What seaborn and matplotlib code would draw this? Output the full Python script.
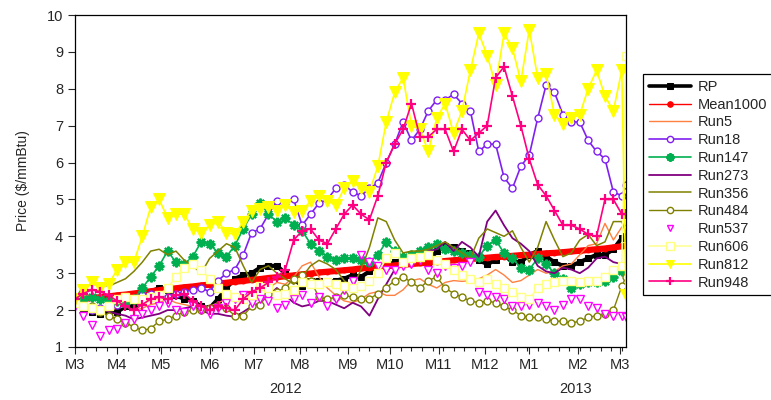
import numpy as np
import pandas as pd
import matplotlib
matplotlib.use("Agg")
import matplotlib.pyplot as plt
import matplotlib.transforms as mtransforms
import seaborn as sns

# Trading days of the sample and the observations kept for plotting
days = pd.bdate_range("2012-03-05", "2013-03-06")
obs = list(range(0, 261, 4)) + [262]

rp = [2.2, 2.05, 1.95, 1.9, 1.95, 1.95, 2.1, 2.1, 2.3, 2.5,
      2.6, 2.55, 2.4, 2.3, 2.25, 2.1, 2.05, 2.3, 2.6, 2.85,
      2.95, 3.0, 3.15, 3.2, 3.2, 3.0, 2.85, 2.65, 2.8, 2.8,
      2.75, 2.8, 2.85, 2.95, 2.9, 3.05, 3.2, 3.2, 3.3, 3.35,
      3.4, 3.3, 3.3, 3.6, 3.75, 3.7, 3.6, 3.55, 3.35, 3.25,
      3.35, 3.5, 3.3, 3.3, 3.5, 3.6, 3.45, 3.3, 3.2, 3.2,
      3.3, 3.4, 3.5, 3.5, 3.65, 3.95, 4.0]
mean1000 = [2.28, 2.30, 2.33, 2.35, 2.37, 2.40, 2.42, 2.45, 2.48, 2.51,
            2.54, 2.57, 2.59, 2.62, 2.64, 2.67, 2.69, 2.72, 2.74, 2.77,
            2.79, 2.82, 2.84, 2.87, 2.89, 2.92, 2.94, 2.97, 2.99, 3.02,
            3.04, 3.06, 3.08, 3.10, 3.13, 3.15, 3.17, 3.19, 3.21, 3.23,
            3.25, 3.27, 3.29, 3.31, 3.33, 3.35, 3.37, 3.39, 3.40, 3.42,
            3.44, 3.45, 3.47, 3.49, 3.50, 3.52, 3.54, 3.55, 3.57, 3.59,
            3.61, 3.63, 3.65, 3.67, 3.70, 3.73, 3.75]
run5 = [2.2, 2.15, 2.1, 2.05, 2.0, 2.05, 2.1, 2.0, 2.05, 2.15,
        2.2, 2.3, 2.2, 2.15, 2.1, 2.05, 2.1, 2.2, 2.3, 2.35,
        2.45, 2.5, 2.55, 2.6, 2.75, 2.7, 2.9, 3.2, 3.3, 2.9,
        2.6, 2.4, 2.25, 2.2, 2.3, 2.45, 2.5, 2.4, 2.4, 2.55,
        2.8, 2.85, 2.7, 2.6, 2.75, 2.8, 2.78, 2.8, 2.85, 2.95,
        3.1, 2.95, 2.75, 2.8, 2.95, 3.1, 3.0, 3.05, 3.2, 3.25,
        3.5, 3.75, 3.8, 4.35, 3.9, 4.25, 4.3]
run18 = [2.2, 2.1, 2.0, 2.05, 2.1, 2.15, 2.2, 2.3, 2.4, 2.45,
         2.4, 2.35, 2.45, 2.5, 2.55, 2.6, 2.5, 2.8, 3.0, 3.1,
         3.5, 4.1, 4.2, 4.6, 4.95, 4.9, 5.0, 4.3, 4.6, 4.9,
         5.0, 5.3, 5.4, 5.2, 5.1, 5.3, 5.45, 6.0, 6.5, 7.1,
         6.6, 6.9, 7.4, 7.7, 7.7, 7.85, 7.6, 7.4, 6.3, 6.5,
         6.5, 5.6, 5.3, 5.9, 6.2, 7.2, 8.1, 7.9, 7.3, 7.1,
         7.1, 6.6, 6.3, 6.1, 5.2, 5.1, 5.4]
run147 = [2.25, 2.3, 2.35, 2.3, 2.25, 2.25, 2.2, 2.3, 2.6, 2.9,
          3.2, 3.6, 3.3, 3.25, 3.45, 3.85, 3.8, 3.55, 3.45, 3.75,
          4.2, 4.6, 4.9, 4.6, 4.4, 4.5, 4.3, 4.15, 3.8, 3.6,
          3.45, 3.35, 3.4, 3.4, 3.35, 3.3, 3.5, 3.85, 3.6, 3.45,
          3.5, 3.6, 3.7, 3.8, 3.65, 3.6, 3.55, 3.5, 3.45, 3.75,
          3.9, 3.55, 3.4, 3.15, 3.1, 3.4, 3.25, 3.0, 2.85, 2.6,
          2.7, 2.75, 2.75, 2.8, 2.9, 3.05, 3.1]
run273 = [2.2, 2.1, 2.0, 2.05, 1.95, 1.9, 1.85, 1.75, 1.8, 1.85,
          1.9, 2.0, 2.0, 2.05, 2.1, 2.0, 1.9, 1.9, 1.85, 1.82,
          1.95, 2.1, 2.2, 2.4, 2.6, 2.4, 2.2, 2.1, 2.15, 2.25,
          2.25, 2.15, 2.05, 2.2, 2.1, 1.85, 2.3, 2.7, 3.1, 3.3,
          3.35, 3.45, 3.6, 3.65, 3.85, 3.6, 3.85, 3.7, 3.45, 4.4,
          4.7, 4.3, 3.95, 3.8, 3.6, 3.2, 3.05, 3.0, 3.15, 3.1,
          3.0, 3.15, 3.4, 3.45, 3.3, 3.25, 3.2]
run356 = [2.3, 2.65, 2.7, 2.7, 2.65, 2.75, 2.85, 3.05, 3.3, 3.6,
          3.65, 3.5, 3.6, 3.35, 3.2, 3.0, 3.4, 3.6, 3.8, 3.7,
          3.2, 2.75, 3.1, 3.2, 3.0, 2.85, 2.7, 2.9, 3.2, 3.35,
          3.25, 3.1, 2.8, 2.6, 3.1, 3.7, 4.5, 4.4, 3.9, 3.55,
          3.6, 3.6, 3.65, 3.75, 3.85, 3.7, 3.55, 3.4, 3.95, 4.2,
          4.1, 4.0, 4.15, 3.7, 3.3, 3.7, 4.4, 3.9, 3.45, 3.55,
          3.9, 4.05, 3.75, 3.85, 4.4, 4.4, 4.1]
run484 = [2.2, 2.15, 2.1, 1.95, 1.85, 1.75, 1.65, 1.55, 1.45, 1.5,
          1.7, 1.75, 1.85, 1.95, 2.0, 2.0, 2.05, 2.1, 2.05, 1.85,
          1.85, 2.1, 2.15, 2.45, 2.5, 2.6, 2.85, 2.95, 2.8, 2.35,
          2.3, 2.35, 2.4, 2.35, 2.3, 2.3, 2.45, 2.6, 2.8, 2.9,
          2.75, 2.6, 2.8, 2.9, 2.6, 2.45, 2.35, 2.25, 2.2, 2.25,
          2.2, 2.1, 2.0, 1.85, 1.8, 1.8, 1.75, 1.7, 1.7, 1.65,
          1.7, 1.8, 1.85, 1.9, 2.0, 2.65, 2.9]
run537 = [2.1, 1.85, 1.6, 1.3, 1.45, 1.5, 1.65, 1.75, 1.9, 2.0,
          2.1, 2.2, 2.0, 1.95, 2.1, 2.0, 1.9, 2.05, 2.2, 2.3,
          2.4, 2.2, 2.3, 2.25, 2.05, 2.15, 2.3, 2.4, 2.2, 2.35,
          2.1, 2.3, 2.55, 2.8, 3.5, 3.3, 3.2, 3.1, 3.1, 3.2,
          3.25, 3.35, 3.1, 3.0, 3.2, 3.15, 3.2, 3.3, 2.5, 2.4,
          2.35, 2.3, 2.1, 2.1, 2.15, 2.2, 2.1, 2.0, 2.15, 2.3,
          2.3, 2.1, 2.05, 1.9, 1.85, 1.85, 1.8]
run606 = [2.2, 2.1, 2.05, 2.0, 2.1, 2.3, 2.35, 2.3, 2.3, 2.35,
          2.4, 2.6, 2.9, 3.15, 3.25, 3.1, 2.85, 2.6, 2.45, 2.35,
          2.3, 2.4, 2.65, 2.6, 2.4, 2.45, 2.55, 2.75, 2.7, 2.7,
          2.75, 2.7, 2.65, 2.6, 2.65, 2.8, 3.0, 3.4, 3.55, 3.3,
          3.4, 3.45, 3.5, 3.35, 3.25, 3.1, 2.95, 2.85, 2.75, 2.85,
          2.7, 2.6, 2.5, 2.35, 2.3, 2.6, 2.7, 2.75, 2.8, 2.8,
          2.75, 2.8, 2.8, 2.9, 3.1, 3.2, 8.9]
run812 = [2.3, 2.55, 2.75, 2.6, 2.7, 3.1, 3.3, 3.3, 4.0, 4.8,
          5.0, 4.5, 4.6, 4.6, 4.2, 4.1, 4.3, 4.4, 4.1, 4.05,
          4.4, 4.7, 4.75, 4.8, 4.7, 4.85, 4.65, 4.7, 4.95, 5.1,
          4.95, 4.85, 5.3, 5.5, 5.3, 5.2, 5.9, 7.1, 7.9, 8.3,
          7.0, 6.9, 6.3, 7.2, 7.6, 6.8, 7.4, 8.5, 9.5, 8.9,
          8.1, 9.5, 9.1, 8.2, 9.6, 8.3, 8.4, 7.3, 7.05, 7.2,
          7.3, 8.0, 8.5, 7.8, 7.4, 8.5, 2.4]
run948 = [2.3, 2.45, 2.55, 2.5, 2.4, 2.25, 2.1, 2.0, 2.15, 2.3,
          2.35, 2.3, 2.4, 2.45, 2.25, 2.1, 2.0, 2.1, 2.05, 2.0,
          2.3, 2.5, 2.6, 2.75, 2.9, 3.1, 3.9, 4.15, 4.2, 3.9,
          3.8, 4.2, 4.6, 4.85, 4.6, 4.45, 5.1, 6.0, 6.5, 6.9,
          7.6, 6.7, 6.7, 6.9, 6.9, 6.3, 6.9, 6.6, 6.8, 7.0,
          8.3, 8.6, 7.8, 7.0, 6.1, 5.4, 5.1, 4.7, 4.3, 4.3,
          4.2, 4.05, 4.0, 5.0, 5.0, 4.6, 4.6]

names = ["RP", "Mean1000", "Run5", "Run18", "Run147", "Run273", "Run356",
         "Run484", "Run537", "Run606", "Run812", "Run948"]
values = [rp, mean1000, run5, run18, run147, run273, run356,
          run484, run537, run606, run812, run948]

styles = {
    "RP":       dict(color="black", lw=3.0, marker="s", ms=5, mfc="black", mec="black"),
    "Mean1000": dict(color="#FF0000", lw=4.5, marker="o", ms=3.5, mfc="#FF0000", mec="#FF0000"),
    "Run5":     dict(color="#FF8040", lw=1.0, marker=None),
    "Run18":    dict(color="#8020F0", lw=1.2, marker="o", ms=5, mfc="white", mec="#8020F0", mew=1.0),
    "Run147":   dict(color="#00B050", lw=1.2, marker=(8, 2, 0), ms=7, mec="#00B050", mew=1.6),
    "Run273":   dict(color="#800080", lw=1.3, marker=None),
    "Run356":   dict(color="#808000", lw=1.1, marker=None),
    "Run484":   dict(color="#808000", lw=1.0, marker="o", ms=5, mfc="white", mec="#808000", mew=1.0),
    "Run537":   dict(color="#FF00FF", lw=0, linestyle="none", marker="v", ms=6, mfc="white", mec="#FF00FF", mew=1.0),
    "Run606":   dict(color="#FFFF99", lw=1.2, marker="s", ms=6, mfc="white", mec="#FFFF80", mew=1.0),
    "Run812":   dict(color="#FFFF00", lw=1.2, marker="v", ms=8, mfc="#FFFF00", mec="#FFFF00"),
    "Run948":   dict(color="#FF0080", lw=1.2, marker="+", ms=7, mec="#FF0080", mew=1.6),
}
# Line widths and marker sizes used for the legend keys
legend_lw = {"RP": 2.6, "Mean1000": 1.0}
legend_ms = {"RP": 5, "Mean1000": 4, "Run18": 4.5, "Run147": 6, "Run484": 4.5,
             "Run537": 5, "Run606": 5.5, "Run812": 6, "Run948": 6}

sns.set_style("white")
plt.rcParams["font.family"] = ["Liberation Sans", "DejaVu Sans"]
plt.rcParams["font.size"] = 10

fig = plt.figure(figsize=(7.71, 4.0), dpi=100)
ax = fig.add_axes([75 / 771, 53 / 400, 551 / 771, 332 / 400])

for name, vals in zip(names, values):
    frame = pd.DataFrame({"obs": obs, "price": vals})
    st = dict(styles[name])
    sns.lineplot(data=frame, x="obs", y="price", ax=ax, label=name,
                 estimator=None, sort=False, **st)

ax.set_xlim(0, len(days) - 1)
ax.set_ylim(1, 10)
ax.set_yticks(range(1, 11))
ax.set_ylabel("Price ($/mmBtu)", fontsize=10, labelpad=12)
ax.set_xlabel("")

# Month ticks at the first trading day of each month, weekly minor ticks
month_pos = [i for i, d in enumerate(days) if i == 0 or d.month != days[i - 1].month]
month_lab = ["M%d" % days[i].month for i in month_pos]
week_pos = [i for i, d in enumerate(days) if d.weekday() == 0]
ax.set_xticks(month_pos)
ax.set_xticklabels(month_lab)
ax.set_xticks(week_pos, minor=True)
ax.tick_params(axis="x", which="major", direction="out", length=5, width=0.8,
               labelsize=10.5, pad=3, bottom=True)
ax.tick_params(axis="x", which="minor", direction="out", length=3, width=0.8, bottom=True)
ax.tick_params(axis="y", which="major", direction="out", length=5, width=0.8,
               labelsize=10.5, left=True)

for sp in ax.spines.values():
    sp.set_color("black")
    sp.set_linewidth(0.9)

# Year captions under the month labels
trans = mtransforms.blended_transform_factory(ax.transData, fig.transFigure)
ax.text(100, 4 / 400, "2012", transform=trans, ha="center", va="bottom", fontsize=10.5)
ax.text(238, 4 / 400, "2013", transform=trans, ha="center", va="bottom", fontsize=10.5)

handles, labels = ax.get_legend_handles_labels()
if ax.get_legend() is not None:
    ax.get_legend().remove()
leg = fig.legend(handles, labels, loc="upper left",
                 bbox_to_anchor=(643 / 771, 1 - 74 / 400),
                 frameon=True, fancybox=False, framealpha=1, edgecolor="black",
                 fontsize=10.5, handlelength=2.9, handletextpad=0.45,
                 labelspacing=0.26, borderpad=0.4, borderaxespad=0)
leg.get_frame().set_linewidth(0.9)
for h, lab in zip(leg.legend_handles, labels):
    if lab in legend_lw:
        h.set_linewidth(legend_lw[lab])
    if lab in legend_ms:
        h.set_markersize(legend_ms[lab])

fig.savefig("out.png", dpi=100)
